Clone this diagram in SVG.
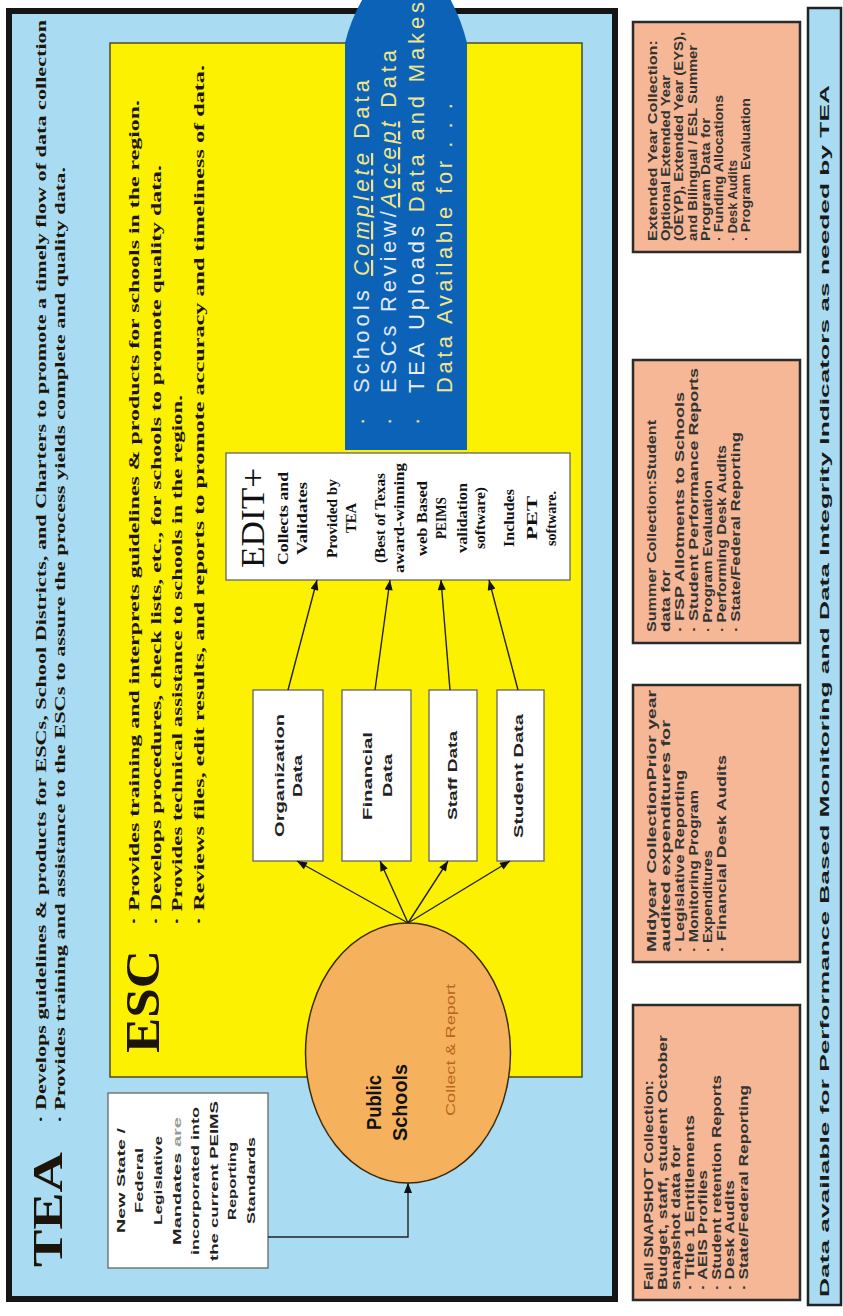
<svg xmlns="http://www.w3.org/2000/svg" width="843" height="1316" viewBox="0 0 843 1316">
<defs>
<marker id="ah" viewBox="0 0 10 8" refX="10" refY="4" markerWidth="11" markerHeight="8" markerUnits="userSpaceOnUse" orient="auto"><path d="M0,0 L10,4 L0,8 z" fill="#111"/></marker>
<style>
.serif{font-family:"Liberation Serif","Times New Roman",serif;font-weight:bold;fill:#1c1408}
.sans{font-family:"Liberation Sans",Arial,sans-serif}
.b{font-weight:bold}
.box{fill:#fff;stroke:#666;stroke-width:1.3}
.org{fill:#f5b795;stroke:#2b2b2b;stroke-width:2.5}
.ot{font-family:"Liberation Sans",Arial,sans-serif;font-weight:bold;font-size:12.5px;fill:#333}
.dt{font-family:"Liberation Sans",Arial,sans-serif;font-weight:bold;font-size:13px;fill:#222}
.nt{font-family:"Liberation Sans",Arial,sans-serif;font-weight:bold;font-size:11px;fill:#222}
.et{font-family:"Liberation Serif","Times New Roman",serif;font-weight:bold;font-size:14px;fill:#111}
.bt{font-family:"Liberation Sans",Arial,sans-serif;font-size:22px;fill:#f3e58a}
.conn{fill:none;stroke:#222;stroke-width:1.4;marker-end:url(#ah)}
</style>
</defs>
<rect width="843" height="1316" fill="#fff"/>
<g transform="matrix(0,-1,1,0,0,1316)">
  <g id="tea">
    <rect x="17" y="9" width="1288" height="606" fill="#a9dcf2" stroke="#151515" stroke-width="6"/>
    <text class="serif" x="49" y="62" font-size="42" textLength="115" lengthAdjust="spacingAndGlyphs">TEA</text>
    <text class="serif" x="193" y="46" font-size="14" textLength="1103" lengthAdjust="spacingAndGlyphs">· Develops guidelines &amp; products for ESCs, School Districts, and Charters to promote a timely flow of data collection</text>
    <text class="serif" x="193" y="65" font-size="14" textLength="956" lengthAdjust="spacingAndGlyphs">· Provides training and assistance to the ESCs to assure the process yields complete and quality data.</text>
  </g>
  <g id="esc">
    <rect x="239" y="110" width="1034" height="472" fill="#fcf200" stroke="#4a4a2a" stroke-width="1.5"/>
    <text class="serif" x="263" y="159" font-size="48" textLength="103" lengthAdjust="spacingAndGlyphs">ESC</text>
    <text class="serif" x="391" y="139" font-size="15" textLength="825" lengthAdjust="spacingAndGlyphs">· Provides training and interprets guidelines &amp; products for schools in the region.</text>
    <text class="serif" x="391" y="161" font-size="15" textLength="760" lengthAdjust="spacingAndGlyphs">· Develops procedures, check lists, etc., for schools to promote quality data.</text>
    <text class="serif" x="391" y="182" font-size="15" textLength="530" lengthAdjust="spacingAndGlyphs">· Provides technical assistance to schools in the region.</text>
    <text class="serif" x="391" y="204" font-size="15" textLength="860" lengthAdjust="spacingAndGlyphs">· Reviews files, edit results, and reports to promote accuracy and timeliness of data.</text>
  </g>
  <g id="flow-arrow">
    <path d="M866,345 L1273,345 Q1298,351 1321,365 L1321,448 Q1298,461 1273,467 L866,467 Z" fill="#0b62b6"/>
    <text class="bt" x="891" y="369">·</text>
    <text class="bt" x="891" y="396">·</text>
    <text class="bt" x="891" y="424">·</text>
    <text class="bt" x="923" y="369" textLength="313" lengthAdjust="spacing"><tspan fill="#e2e8f8">Schools </tspan><tspan font-style="italic" text-decoration="underline">Complete</tspan> Data</text>
    <text class="bt" x="923" y="396" textLength="343" lengthAdjust="spacing"><tspan fill="#e2e8f8">ESCs Review/</tspan><tspan font-style="italic" text-decoration="underline">Accept</tspan> Data</text>
    <text class="bt" x="923" y="424" textLength="391" lengthAdjust="spacing"><tspan fill="#eef0f0">TEA Uploads </tspan>Data and Makes</text>
    <text class="bt" x="923" y="452" textLength="290" lengthAdjust="spacing">Data Available for . . .</text>
  </g>
  <g id="edit">
    <rect class="box" x="736" y="226" width="127" height="344"/>
    <text x="748" y="264" font-family="Liberation Serif, serif" font-size="34" fill="#111" textLength="100" lengthAdjust="spacingAndGlyphs">EDIT+</text>
    <text class="et" x="751" y="288" textLength="93" lengthAdjust="spacingAndGlyphs">Collects and</text>
    <text class="et" x="761" y="307" textLength="73" lengthAdjust="spacingAndGlyphs">Validates</text>
    <text class="et" x="758" y="337" font-size="13" textLength="79" lengthAdjust="spacingAndGlyphs">Provided by</text>
    <text class="et" x="783" y="356" font-size="13" textLength="30" lengthAdjust="spacingAndGlyphs">TEA</text>
    <text class="et" x="753" y="385" font-size="13" textLength="90" lengthAdjust="spacingAndGlyphs">(Best of Texas</text>
    <text class="et" x="743" y="404" font-size="13" textLength="110" lengthAdjust="spacingAndGlyphs">award-winning</text>
    <text class="et" x="760" y="427" font-size="13" textLength="75" lengthAdjust="spacingAndGlyphs">web Based</text>
    <text class="et" x="777" y="446" font-size="13" textLength="42" lengthAdjust="spacingAndGlyphs">PEIMS</text>
    <text class="et" x="763" y="467" font-size="13" textLength="70" lengthAdjust="spacingAndGlyphs">validation</text>
    <text class="et" x="767" y="485" font-size="13" textLength="62" lengthAdjust="spacingAndGlyphs">software)</text>
    <text class="et" x="769" y="514" font-size="13" textLength="58" lengthAdjust="spacingAndGlyphs">Includes</text>
    <text class="et" x="776" y="537" font-size="24" textLength="44" lengthAdjust="spacingAndGlyphs">PET</text>
    <text class="et" x="770" y="556" font-size="13" textLength="55" lengthAdjust="spacingAndGlyphs">software.</text>
  </g>
  <g id="org-data">
    <rect class="box" x="455" y="253" width="171" height="70" stroke="#555"/>
    <text class="dt" x="479" y="284" textLength="123" lengthAdjust="spacingAndGlyphs">Organization</text>
    <text class="dt" x="519" y="302" textLength="42" lengthAdjust="spacingAndGlyphs">Data</text>
  </g>
  <g id="fin-data">
    <rect class="box" x="455" y="342" width="171" height="69" stroke="#555"/>
    <text class="dt" x="496" y="372" textLength="88" lengthAdjust="spacingAndGlyphs">Financial</text>
    <text class="dt" x="519" y="392" textLength="43" lengthAdjust="spacingAndGlyphs">Data</text>
  </g>
  <g id="staff-data">
    <rect class="box" x="455" y="429" width="171" height="48" stroke="#555"/>
    <text class="dt" x="496" y="457" textLength="89" lengthAdjust="spacingAndGlyphs">Staff Data</text>
  </g>
  <g id="student-data">
    <rect class="box" x="455" y="497" width="171" height="47" stroke="#555"/>
    <text class="dt" x="478" y="523" textLength="124" lengthAdjust="spacingAndGlyphs">Student Data</text>
  </g>
  <g id="public-schools">
    <ellipse cx="263" cy="408" rx="130" ry="102.5" fill="#f6b15c" stroke="#3a2a10" stroke-width="1.5"/>
    <text class="sans b" x="186" y="381" font-size="21" fill="#111" textLength="55" lengthAdjust="spacingAndGlyphs">Public</text>
    <text class="sans b" x="175" y="407" font-size="21" fill="#111" textLength="77" lengthAdjust="spacingAndGlyphs">Schools</text>
    <text class="sans" x="200" y="455" font-size="12" fill="#b8651e" textLength="132" lengthAdjust="spacingAndGlyphs">Collect &amp; Report</text>
  </g>
  <g id="mandates">
    <rect class="box" x="48" y="108" width="175" height="160"/>
    <text class="nt" x="83" y="125" textLength="105" lengthAdjust="spacingAndGlyphs">New State /</text>
    <text class="nt" x="103" y="143" textLength="65" lengthAdjust="spacingAndGlyphs">Federal</text>
    <text class="nt" x="91" y="162" textLength="89" lengthAdjust="spacingAndGlyphs">Legislative</text>
    <text class="nt" x="71" y="181" textLength="128" lengthAdjust="spacingAndGlyphs">Mandates <tspan fill="#9a9a9a">are</tspan></text>
    <text class="nt" x="61" y="199" textLength="148" lengthAdjust="spacingAndGlyphs">incorporated into</text>
    <text class="nt" x="55" y="218" textLength="160" lengthAdjust="spacingAndGlyphs">the current PEIMS</text>
    <text class="nt" x="96" y="236" textLength="78" lengthAdjust="spacingAndGlyphs">Reporting</text>
    <text class="nt" x="92" y="255" textLength="87" lengthAdjust="spacingAndGlyphs">Standards</text>
  </g>
  <g id="extended">
    <rect class="org" x="1064" y="633" width="230" height="167"/>
    <text class="ot" x="1075" y="657" textLength="201" lengthAdjust="spacingAndGlyphs">Extended Year Collection:</text>
    <text class="ot" x="1075" y="670" textLength="166" lengthAdjust="spacingAndGlyphs">Optional Extended Year</text>
    <text class="ot" x="1075" y="683" textLength="209" lengthAdjust="spacingAndGlyphs">(OEYP), Extended Year (EYS),</text>
    <text class="ot" x="1075" y="697" textLength="196" lengthAdjust="spacingAndGlyphs">and Bilingual / ESL Summer</text>
    <text class="ot" x="1075" y="710" textLength="123" lengthAdjust="spacingAndGlyphs">Program Data for</text>
    <text class="ot" x="1075" y="723" textLength="146" lengthAdjust="spacingAndGlyphs">· Funding Allocations</text>
    <text class="ot" x="1075" y="737" textLength="81" lengthAdjust="spacingAndGlyphs">· Desk Audits</text>
    <text class="ot" x="1075" y="750" textLength="143" lengthAdjust="spacingAndGlyphs">· Program Evaluation</text>
  </g>
  <g id="summer">
    <rect class="org" x="673" y="633" width="283" height="167"/>
    <text class="ot" x="684" y="656" textLength="212" lengthAdjust="spacingAndGlyphs">Summer Collection:Student</text>
    <text class="ot" x="684" y="670" textLength="62" lengthAdjust="spacingAndGlyphs">data for</text>
    <text class="ot" x="684" y="684" textLength="240" lengthAdjust="spacingAndGlyphs">· FSP Allotments to Schools</text>
    <text class="ot" x="684" y="698" textLength="264" lengthAdjust="spacingAndGlyphs">· Student Performance Reports</text>
    <text class="ot" x="684" y="712" textLength="152" lengthAdjust="spacingAndGlyphs">· Program Evaluation</text>
    <text class="ot" x="684" y="726" textLength="187" lengthAdjust="spacingAndGlyphs">· Performing Desk Audits</text>
    <text class="ot" x="684" y="740" textLength="200" lengthAdjust="spacingAndGlyphs">· State/Federal Reporting</text>
  </g>
  <g id="midyear">
    <rect class="org" x="354" y="633" width="277" height="167"/>
    <text class="ot" x="364" y="656" textLength="262" lengthAdjust="spacingAndGlyphs">Midyear CollectionPrior year</text>
    <text class="ot" x="364" y="670" textLength="232" lengthAdjust="spacingAndGlyphs">audited expenditures for</text>
    <text class="ot" x="364" y="684" textLength="182" lengthAdjust="spacingAndGlyphs">· Legislative Reporting</text>
    <text class="ot" x="364" y="698" textLength="162" lengthAdjust="spacingAndGlyphs">· Monitoring Program</text>
    <text class="ot" x="364" y="712" textLength="102" lengthAdjust="spacingAndGlyphs">· Expenditures</text>
    <text class="ot" x="364" y="726" textLength="197" lengthAdjust="spacingAndGlyphs">· Financial Desk Audits</text>
  </g>
  <g id="fall">
    <rect class="org" x="16" y="633" width="295" height="167"/>
    <text class="ot" x="26" y="653" textLength="210" lengthAdjust="spacingAndGlyphs">Fall SNAPSHOT Collection:</text>
    <text class="ot" x="26" y="667" textLength="255" lengthAdjust="spacingAndGlyphs">Budget, staff, student October</text>
    <text class="ot" x="26" y="680" textLength="145" lengthAdjust="spacingAndGlyphs">snapshot data for</text>
    <text class="ot" x="26" y="694" textLength="175" lengthAdjust="spacingAndGlyphs">· Title 1 Entitlements</text>
    <text class="ot" x="26" y="707" textLength="120" lengthAdjust="spacingAndGlyphs">· AEIS Profiles</text>
    <text class="ot" x="26" y="721" textLength="215" lengthAdjust="spacingAndGlyphs">· Student retention Reports</text>
    <text class="ot" x="26" y="734" textLength="110" lengthAdjust="spacingAndGlyphs">· Desk Audits</text>
    <text class="ot" x="26" y="748" textLength="205" lengthAdjust="spacingAndGlyphs">· State/Federal Reporting</text>
  </g>
  <g id="data-available">
    <rect x="11" y="808" width="1297" height="33" fill="#a9dcf2" stroke="#222" stroke-width="2.5"/>
    <text class="sans b" x="19" y="829" font-size="12" fill="#1a1a1a" textLength="1212" lengthAdjust="spacingAndGlyphs">Data available for Performance Based Monitoring and Data Integrity Indicators as needed by TEA</text>
  </g>
  <g id="connectors">
    <path class="conn" d="M79,268 L79,408 L133,408"/>
    <path class="conn" d="M393,408 L455,297"/>
    <path class="conn" d="M393,408 L455,380"/>
    <path class="conn" d="M393,408 L455,448"/>
    <path class="conn" d="M393,408 L455,510"/>
    <path class="conn" d="M626,288 L736,317"/>
    <path class="conn" d="M626,375 L736,390"/>
    <path class="conn" d="M626,450 L736,441"/>
    <path class="conn" d="M626,518 L736,489"/>
  </g>
</g>
</svg>
